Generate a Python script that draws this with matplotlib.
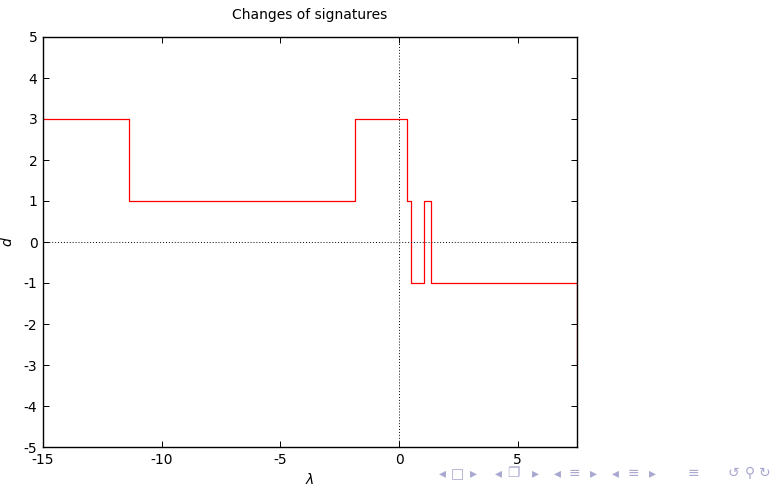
import matplotlib
matplotlib.use("Agg")
import matplotlib.pyplot as plt

# step data: breakpoints and signature values
lam_points = [-15, -11.38, -1.85, 0.33, 0.52, 1.07, 1.36, 7.5, 7.5]
d_values = [3, 1, 3, 1, -1, 1, -1, -1, -3]
x_ticks = [-15, -10, -5, 0, 5]
y_ticks = [-5, -4, -3, -2, -1, 0, 1, 2, 3, 4, 5]

plt.rcParams['font.family'] = ['DejaVu Sans']
fig = plt.figure(figsize=(7.75, 4.9), dpi=100)
ax = fig.add_axes([43/775, 43/490, (577-43)/775, (447-37)/490])

ax.step(lam_points, d_values, where='post', color='#ff0000', lw=0.9, clip_on=True)
ax.axhline(0, color='black', lw=0.7, ls=(0, (1, 2)))
ax.axvline(0, color='black', lw=0.7, ls=(0, (1, 2)))

ax.set_xlim(-15, 7.5)
ax.set_ylim(-5, 5)
ax.set_xticks(x_ticks)
ax.set_yticks(y_ticks)
ax.set_xticklabels([str(t) for t in x_ticks])
ax.set_yticklabels([str(t) for t in y_ticks])
ax.tick_params(direction='in', top=True, right=True, length=4, width=0.7, labelsize=10, pad=4)
for s in ax.spines.values():
    s.set_linewidth(1.0)

ax.set_title("Changes of signatures", fontsize=10, pad=13)
ax.set_xlabel(r"$\lambda$", fontsize=10, labelpad=4)
ax.set_ylabel(r"$d$", fontsize=10, labelpad=6)

# beamer navigation symbols
nav_items = [(442, "◂"), (457, "□"), (473, "▸"),
             (498, "◂"), (513, "❐"), (535, "▸"),
             (557, "◂"), (574, "≡"), (593, "▸"),
             (615, "◂"), (633, "≡"), (652, "▸"),
             (693, "≡"),
             (733, "↺"), (750, "⚲"), (765, "↻")]
for px, ch in nav_items:
    fig.text(px/775, 1 - 473/490, ch, fontsize=10, color='#a8a8d0',
             va='center', ha='center')

fig.savefig("out.png", dpi=100)
